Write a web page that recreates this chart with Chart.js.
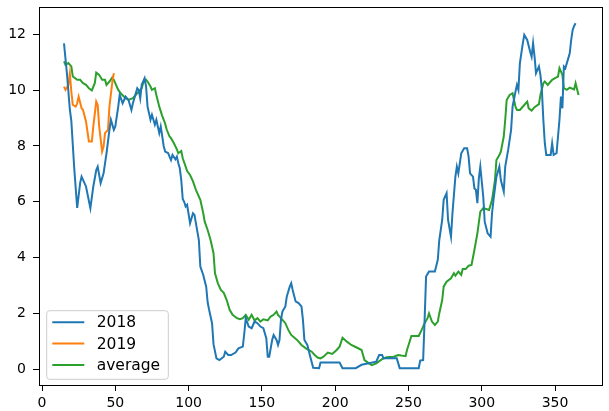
<!DOCTYPE html>
<html>
<head>
<meta charset="utf-8">
<script src="https://cdn.jsdelivr.net/npm/chart.js@4.4.1/dist/chart.umd.min.js"></script>
<style>
  html, body { margin: 0; padding: 0; background: #fff; }
  #wrap { width: 609px; height: 411px; }
</style>
</head>
<body>
<div id="wrap"><canvas id="c" width="609" height="411"></canvas></div>
<script>
const seriesLabels = ['2018', '2019', 'average'];

const days2018 = [15,17,19,20,22,24,26,27,29,30,33,35,37,38,40,42,44,46,47,49,50,52,53,55,57,59,61,62,65,66,67,68,70,71,72,74,75,77,78,80,81,83,84,86,87,88,89,91,92,93,94,95,96,97,98,99,101,103,104,107,108,110,112,113,114,116,117,119,121,124,125,127,129,132,134,137,138,139,141,143,145,147,149,151,153,154,155,157,158,160,161,162,163,164,166,167,169,170,171,173,175,177,178,179,181,183,185,189,190,203,205,214,218,228,230,232,233,242,244,257,258,260,261,262,264,268,270,271,273,274,276,277,279,280,282,283,284,285,286,288,290,291,292,294,295,296,297,298,299,301,302,304,306,307,308,310,312,313,315,316,318,320,321,323,324,325,326,328,329,331,333,334,335,336,337,339,340,341,342,343,344,347,348,349,351,353,354,355,356,357,359,360,361,362,363,364];
const values2018 = [11.68,10.6,9.3,8.9,7.2,5.78,6.67,6.9,6.67,6.55,5.77,6.55,7.14,7.26,6.67,7.02,7.74,8.58,8.94,8.58,8.7,9.41,9.83,9.53,9.77,9.65,9.29,9.53,10.07,10.0,9.71,10.19,10.43,10.13,9.41,8.94,9.12,8.76,8.94,8.46,8.7,8.0,7.8,7.75,7.62,7.5,7.68,7.52,7.62,7.38,7.2,6.78,6.1,6.0,5.83,5.89,5.23,5.59,5.53,4.63,3.68,3.38,2.96,2.4,2.13,1.65,0.9,0.39,0.33,0.45,0.63,0.51,0.51,0.6,0.75,0.81,1.29,1.83,1.53,1.47,1.71,1.65,1.53,1.47,1.11,0.45,0.45,1.05,1.23,1.05,0.87,1.05,1.77,2.07,2.25,2.61,2.96,3.08,2.84,2.43,2.37,2.25,1.77,1.05,0.87,0.45,0.05,0.04,0.24,0.24,0.04,0.04,0.16,0.27,0.51,0.51,0.39,0.39,0.04,0.04,0.31,0.33,1.77,3.32,3.5,3.5,3.92,4.63,5.35,6.07,6.31,5.35,4.75,5.59,6.9,7.26,7.02,7.38,7.74,7.92,7.92,7.62,7.02,6.9,6.48,6.43,5.95,6.84,7.26,6.19,5.29,4.87,4.75,5.59,6.07,6.9,7.26,6.78,6.37,7.26,7.86,8.58,9.41,9.95,10.19,10.01,10.97,11.68,11.98,11.8,11.38,11.2,11.68,11.2,10.61,10.85,10.55,10.01,8.94,8.1,7.68,7.68,8.1,7.68,7.74,8.94,9.77,9.35,10.85,10.79,11.14,11.32,11.8,12.16,12.3,12.4];

const days2019 = [15,16,17,18,19,20,21,23,24,25,27,28,30,31,32,34,35,37,38,39,41,42,43,45,46,48,49];
const values2019 = [10.13,10.01,10.1,10.19,10.6,9.95,9.47,9.41,9.53,9.77,9.35,9.29,8.88,8.52,8.16,8.16,8.7,9.59,9.47,8.7,7.8,7.98,8.46,8.58,9.41,10.31,10.61];

const daysAvg = [15,16,18,20,21,24,26,28,30,32,34,36,37,39,41,43,44,46,48,49,52,54,57,59,62,64,66,68,69,71,72,74,75,77,78,80,82,84,85,87,88,90,92,93,95,96,98,99,101,103,105,108,110,111,113,115,117,118,120,122,124,126,128,130,133,135,137,139,141,143,145,147,149,151,154,156,158,160,161,163,166,168,170,174,177,180,184,186,188,190,192,195,198,201,203,205,208,211,215,218,220,223,225,228,232,235,240,243,245,248,249,252,257,259,261,263,264,266,268,270,271,273,274,276,279,281,282,284,286,287,289,291,293,295,297,299,301,303,305,307,309,310,312,313,315,316,317,319,321,323,324,326,329,331,332,334,336,339,340,342,343,345,347,348,350,352,353,355,356,358,360,361,363,364,366];
const valuesAvg = [11.03,10.91,10.97,10.85,10.49,10.37,10.37,10.25,10.19,10.07,9.99,10.25,10.63,10.55,10.37,10.37,10.19,10.31,10.46,10.37,10.01,9.87,9.71,9.65,9.71,9.83,9.95,10.07,10.25,10.37,10.31,10.13,10.01,10.07,9.83,9.41,9.08,8.8,8.6,8.34,8.28,8.1,7.88,7.74,7.82,7.56,7.26,7.1,6.96,6.73,6.43,6.07,5.59,5.29,4.99,4.63,4.16,3.44,3.08,2.84,2.74,2.48,2.13,1.95,1.83,1.79,1.83,1.95,1.77,1.95,1.75,1.83,1.71,1.79,1.75,1.89,1.95,2.07,1.95,1.83,1.65,1.41,1.23,1.05,0.87,0.75,0.63,0.51,0.42,0.39,0.45,0.6,0.55,0.69,0.81,1.13,0.99,0.87,0.77,0.69,0.33,0.21,0.15,0.21,0.36,0.43,0.45,0.51,0.49,0.47,0.69,1.19,1.19,1.41,1.65,1.83,2.0,1.71,1.59,1.71,2.0,2.48,2.96,3.14,3.26,3.44,3.35,3.5,3.38,3.59,3.59,3.71,3.74,4.28,4.87,5.65,5.77,5.74,5.71,6.07,6.78,7.5,7.68,7.8,8.34,8.94,9.65,9.83,9.89,9.41,9.29,9.29,9.47,9.59,9.35,9.27,9.39,9.5,9.83,10.25,10.31,10.19,10.31,10.37,10.43,10.49,10.79,10.55,10.07,10.01,10.09,10.07,10.03,10.25,9.83];

const xTicks = [0, 50, 100, 150, 200, 250, 300, 350];
const yTicks = [0, 2, 4, 6, 8, 10, 12];
const colors = ['#1f77b4', '#ff7f0e', '#2ca02c'];

const pts = (xs, ys) => xs.map((x, i) => ({ x: x, y: ys[i] }));

const FONT = '"DejaVu Sans", sans-serif';

const frameAndLegend = {
  id: 'frameAndLegend',
  afterDatasetsDraw(chart) {
    const ctx = chart.ctx;
    const a = chart.chartArea;
    ctx.save();
    ctx.strokeStyle = '#000';
    ctx.lineWidth = 1;
    ctx.strokeRect(Math.round(a.left) + 0.5, Math.round(a.top) + 0.5,
                   Math.round(a.right - a.left) - 1, Math.round(a.bottom - a.top) - 1);
    // legend box (lower left, inside axes)
    const bx = a.left + 7.7, bw = 121.6, bh = 68.6;
    const by = a.bottom - 6.7 - bh;
    const r = 3;
    ctx.beginPath();
    ctx.moveTo(bx + r, by);
    ctx.lineTo(bx + bw - r, by);
    ctx.quadraticCurveTo(bx + bw, by, bx + bw, by + r);
    ctx.lineTo(bx + bw, by + bh - r);
    ctx.quadraticCurveTo(bx + bw, by + bh, bx + bw - r, by + bh);
    ctx.lineTo(bx + r, by + bh);
    ctx.quadraticCurveTo(bx, by + bh, bx, by + bh - r);
    ctx.lineTo(bx, by + r);
    ctx.quadraticCurveTo(bx, by, bx + r, by);
    ctx.closePath();
    ctx.fillStyle = 'rgba(255,255,255,0.8)';
    ctx.fill();
    ctx.strokeStyle = '#cccccc';
    ctx.lineWidth = 1;
    ctx.stroke();
    ctx.font = '15.5px ' + FONT;
    ctx.textBaseline = 'middle';
    ctx.textAlign = 'left';
    chart.data.datasets.forEach((ds, i) => {
      const y = by + 11.6 + i * 21.3;
      ctx.strokeStyle = ds.borderColor;
      ctx.lineWidth = 2;
      ctx.beginPath();
      ctx.moveTo(bx + 5.6, y);
      ctx.lineTo(bx + 37.6, y);
      ctx.stroke();
      ctx.fillStyle = '#000';
      ctx.fillText(ds.label, bx + 50, y + 1);
    });
    ctx.restore();
  }
};

new Chart(document.getElementById('c'), {
  type: 'line',
  data: {
    datasets: [
      { label: seriesLabels[0], data: pts(days2018, values2018), borderColor: colors[0] },
      { label: seriesLabels[1], data: pts(days2019, values2019), borderColor: colors[1] },
      { label: seriesLabels[2], data: pts(daysAvg, valuesAvg), borderColor: colors[2] }
    ]
  },
  options: {
    responsive: false,
    animation: false,
    devicePixelRatio: 1,
    layout: { padding: { top: 0, right: 5.7, left: 0, bottom: 0 } },
    elements: {
      line: { borderWidth: 2, tension: 0, fill: false },
      point: { radius: 0, hoverRadius: 0 }
    },
    plugins: { legend: { display: false }, tooltip: { enabled: false } },
    scales: {
      x: {
        type: 'linear',
        min: -2.05,
        max: 382.9,
        afterBuildTicks: s => { s.ticks = xTicks.map(v => ({ value: v })); },
        afterFit: s => { s.height = 25; s.paddingLeft = 0; s.paddingRight = 0; },
        grid: { drawOnChartArea: false, drawTicks: true, tickLength: 5, tickColor: '#000', tickWidth: 1 },
        border: { display: false },
        ticks: { color: '#000', font: { family: FONT, size: 14 }, padding: 4, maxRotation: 0, autoSkip: false }
      },
      y: {
        type: 'linear',
        min: -0.6,
        max: 12.97,
        afterBuildTicks: s => { s.ticks = yTicks.map(v => ({ value: v })); },
        afterFit: s => { s.width = 39; s.paddingTop = 7.3; s.paddingBottom = 0; },
        grid: { drawOnChartArea: false, drawTicks: true, tickLength: 6, tickColor: '#000', tickWidth: 1 },
        border: { display: false },
        ticks: { color: '#000', font: { family: FONT, size: 14 }, padding: 7, autoSkip: false }
      }
    }
  },
  plugins: [frameAndLegend]
});
</script>
</body>
</html>
